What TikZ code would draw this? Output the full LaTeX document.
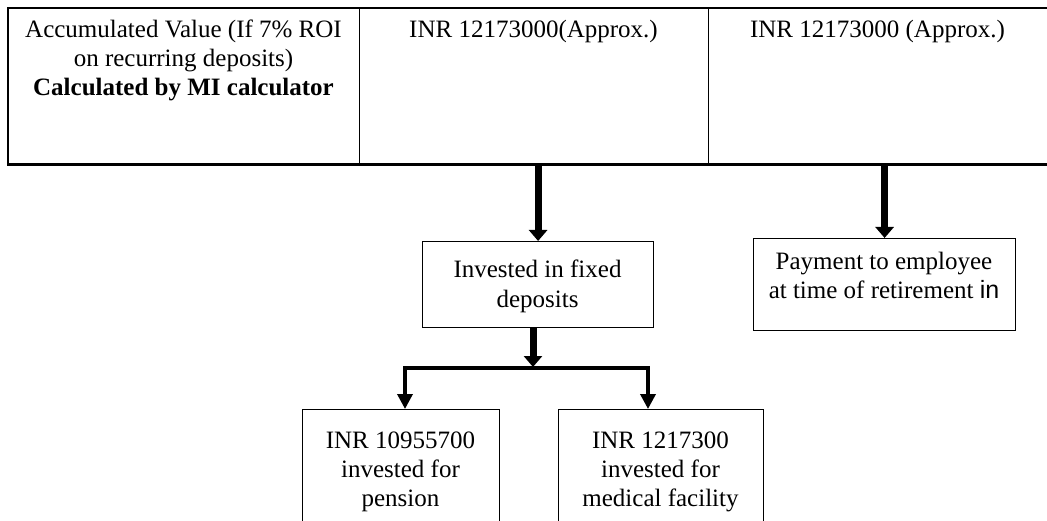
\documentclass[tikz,border=0pt]{standalone}
\usepackage{fontspec}
\setmainfont{Liberation Serif}
\setsansfont{Liberation Sans}
\usetikzlibrary{arrows.meta}
\begin{document}
\begin{tikzpicture}[x=1pt,y=-1pt,
  txt/.style={font=\fontsize{25}{29}\selectfont, align=center, anchor=base, inner sep=0pt},
  box/.style={draw, line width=1.2pt, inner sep=0pt, anchor=north west},
  cell/.style={inner sep=0pt, anchor=north west, minimum height=156pt},
  bigarrow/.style={line width=7pt, -{Triangle[width=18pt,length=11pt]}},
  smallarrow/.style={line width=3.5pt, line join=miter, -{Triangle[width=15pt,length=15pt]}},
  rule/.style={line width=2.5pt, line join=miter},
  sep/.style={line width=1.3pt}]
\useasboundingbox (0,0) rectangle (1047,521);
\clip (0,0) rectangle (1047,521);
% table cells
\node[cell, minimum width=351pt] (c1) at (8,8) {};
\node[cell, minimum width=349pt] (c2) at (359,8) {};
\node[cell, minimum width=345pt] (c3) at (708,8) {};
\draw[rule] (c3.north east) -- (c1.north west) -- (c1.south west) -- (c3.south east);
\draw[sep] (c1.north east) -- (c1.south east);
\draw[sep] (c2.north east) -- (c2.south east);
% multi-line texts: base anchor = baseline of the last line
\node[txt] (t1) at (183.5,96) {Accumulated Value (If 7\% ROI\\on recurring deposits)\\\textbf{Calculated by MI calculator}};
\node[txt] (t2) at (533.5,38) {INR 12173000(Approx.)};
\node[txt] (t3) at (877.5,38) {INR 12173000 (Approx.)};
% boxes
\node[box, minimum width=231pt, minimum height=86pt] (fixed) at (422,241) {};
\node[box, minimum width=262pt, minimum height=92pt] (pay) at (753,238) {};
\node[box, minimum width=197pt, minimum height=140pt] (pen) at (302,409) {};
\node[box, minimum width=205pt, minimum height=140pt] (med) at (558,409) {};
\node[txt, font=\fontsize{25}{30}\selectfont] (tf) at (537.5,308) {Invested in fixed\\deposits};
\node[txt] (tp) at (884,299) {Payment to employee\\at time of retirement {\sffamily in}};
\node[txt] (tpen) at (400.5,506) {INR 10955700\\invested for\\pension};
\node[txt] (tmed) at (660.5,506) {INR 1217300\\invested for\\medical facility};
% connectors
\draw[bigarrow] (fixed.north |- c2.south) -- (fixed.north);
\draw[bigarrow] (pay.north |- c3.south) -- (pay.north);
\coordinate (jn) at (533,367);
\coordinate (bl) at (405,368);
\coordinate (br) at (648,368);
\draw[bigarrow] (jn |- fixed.south) -- (jn);
\draw[smallarrow] (br) -- (bl) -- (bl |- pen.north);
\draw[smallarrow] (bl) -- (br) -- (br |- med.north);
\end{tikzpicture}
\end{document}
